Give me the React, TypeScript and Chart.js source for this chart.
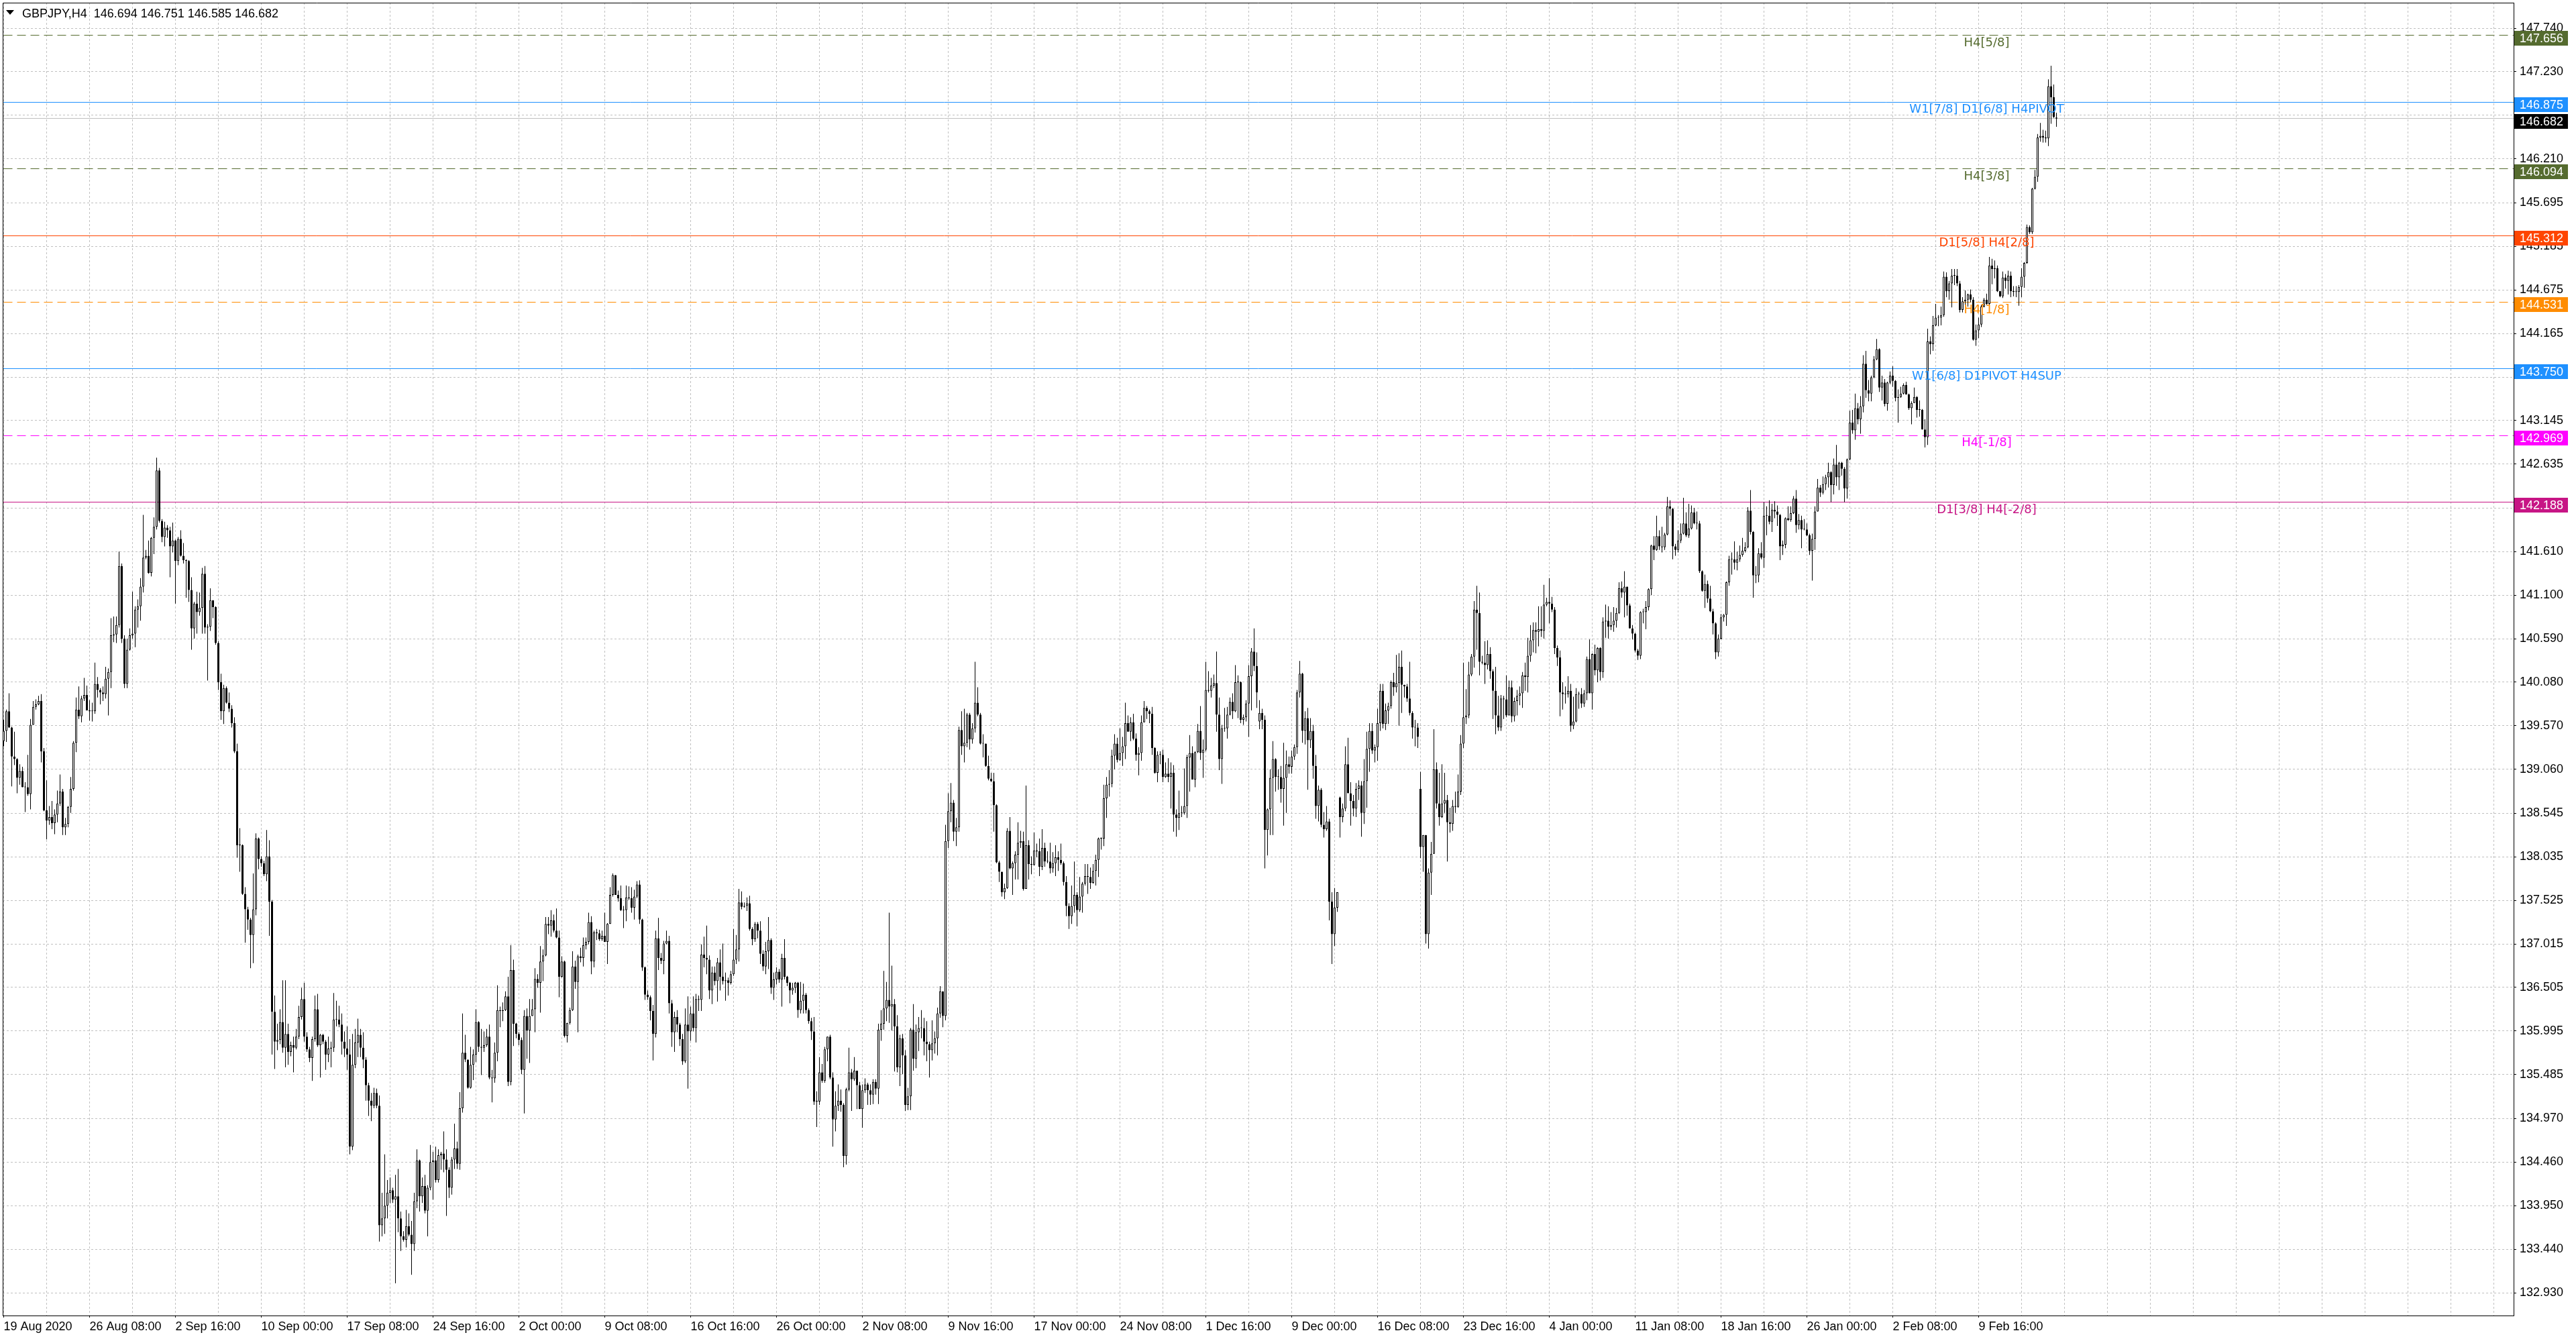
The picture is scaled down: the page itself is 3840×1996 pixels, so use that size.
// @ts-nocheck
import { useEffect, useRef } from "react";
import { Chart, registerables } from "chart.js";

Chart.register(...registerables);

const FONT = "'Liberation Sans', Arial, sans-serif";
const LABEL_FONT = "'DejaVu Sans', Verdana, sans-serif";

const symbolTitle = "GBPJPY,H4  146.694 146.751 146.585 146.682";

// one label every 32 bars (grid every 16)
const dateLabels = [
    "19 Aug 2020", "26 Aug 08:00", "2 Sep 16:00", "10 Sep 00:00", "17 Sep 08:00", "24 Sep 16:00",
    "2 Oct 00:00", "9 Oct 08:00", "16 Oct 16:00", "26 Oct 00:00", "2 Nov 08:00", "9 Nov 16:00",
    "17 Nov 00:00", "24 Nov 08:00", "1 Dec 16:00", "9 Dec 00:00", "16 Dec 08:00", "23 Dec 16:00",
    "4 Jan 00:00", "11 Jan 08:00", "18 Jan 16:00", "26 Jan 00:00", "2 Feb 08:00", "9 Feb 16:00",
];

const yTickLabels = [
    "147.740", "147.230", "146.720", "146.210", "145.695", "145.185", "144.675", "144.165", "143.650", "143.145",
    "142.635", "142.120", "141.610", "141.100", "140.590", "140.080", "139.570", "139.060", "138.545", "138.035",
    "137.525", "137.015", "136.505", "135.995", "135.485", "134.970", "134.460", "133.950", "133.440", "132.930",
];
const yTickHidden = ["146.720", "143.650", "142.120"];

// H4 candles, open = previous close except where the market gapped
const firstOpen = 139.39;
const gapOpens = { 468: 139.62, 498: 138.73, 528: 138.83, 765: 146.694 };

const closes = [
    139.51, 139.74, 139.55, 139.21, 139.18, 138.96, 139.04, 138.85, 138.85, 138.77,
    139.58, 139.79, 139.82, 139.86, 139.27, 138.58, 138.46, 138.50, 138.43, 138.53,
    138.66, 138.80, 138.38, 138.42, 138.62, 138.83, 139.37, 139.76, 139.68, 139.89,
    139.93, 139.75, 139.74, 139.74, 140.06, 139.99, 139.96, 139.94, 140.12, 140.20,
    140.63, 140.64, 140.75, 141.44, 140.59, 140.06, 140.46, 140.63, 140.65, 140.93,
    140.97, 141.20, 141.54, 141.56, 141.36, 141.77, 141.90, 142.56, 141.97, 141.78,
    141.89, 141.86, 141.67, 141.74, 141.50, 141.76, 141.56, 141.51, 141.50, 141.16,
    140.71, 141.00, 140.90, 140.95, 141.35, 140.72, 140.73, 141.04, 140.96, 140.54,
    140.08, 139.74,
    140.01, 139.84, 139.77, 139.60, 139.27, 138.17, 138.17, 137.60, 137.42, 137.30,
    137.12, 137.42, 138.25, 138.01, 137.96, 137.83, 138.04, 137.51, 136.22, 135.87,
    135.89, 136.10, 135.80, 135.96, 135.75, 135.83, 135.80, 135.93, 136.16, 136.37,
    135.93, 135.78, 135.68, 135.90, 136.25, 135.83, 135.95, 135.87, 135.72, 135.79,
    135.80, 136.13, 136.13, 136.07, 135.87, 135.79, 135.72, 134.64, 135.60, 135.86,
    135.95, 135.80, 135.66, 135.36, 135.18, 135.12, 135.27, 135.12, 133.72, 133.80,
    133.95, 134.10, 134.13, 134.02, 134.06, 133.80, 133.59, 133.55, 133.71, 133.61,
    133.50, 134.00, 134.48, 134.06, 134.18, 133.89, 134.16, 134.46, 134.48, 134.25,
    134.54, 134.56, 134.49, 134.37, 134.16, 134.49, 134.62, 134.44, 135.09, 135.74,
    135.66, 135.33, 135.60, 135.72, 136.10, 135.81, 135.80, 135.83, 135.93,
    135.45, 135.44, 135.74, 136.24, 136.23, 136.24, 136.40, 135.40, 136.71, 136.08,
    135.96, 135.89, 135.54, 136.17, 136.00, 136.17, 136.25, 136.605, 136.56, 136.81,
    136.88, 137.25, 137.23, 137.29, 137.17, 137.09, 136.63, 136.81, 135.94, 136.09,
    136.24, 136.75, 136.57, 136.87, 136.85, 137.00, 137.04, 137.27, 136.81, 137.15,
    137.14, 137.07, 137.11, 137.04, 137.25, 137.59, 137.82, 137.59, 137.55, 137.41,
    137.41, 137.56, 137.55, 137.44, 137.57, 137.71, 137.30, 136.74, 136.42, 136.39,
    136.23, 135.96, 137.08, 136.85, 136.82, 137.02, 137.05, 136.32, 135.98, 136.16,
    136.07, 135.90, 135.64, 136.07, 135.99, 136.20, 136.03, 136.37, 136.36, 136.89,
    136.85, 136.83, 136.47, 136.68, 136.58, 136.80, 136.63, 136.58, 136.59, 136.56,
    136.66, 136.83, 136.95, 137.50, 137.45, 137.46, 137.49, 137.19, 137.07, 137.25,
    137.17, 136.90, 136.75, 136.93, 137.06, 136.50, 136.60, 136.69, 136.60, 136.85,
    136.63, 136.56, 136.47, 136.50, 136.56, 136.24, 136.35, 136.42, 136.24, 136.11,
    135.99, 135.17, 135.17, 135.51, 135.41, 135.78, 135.93, 135.45, 134.96, 135.12,
    135.18, 135.13, 134.53, 135.31, 135.51, 135.43, 135.53, 135.36, 135.08, 135.30,
    135.37, 135.30, 135.25, 135.40, 135.32, 136.01, 136.08, 136.26, 136.36, 136.28,
    136.31, 136.05, 135.57, 135.91, 135.71, 135.13, 135.23, 136.01, 135.67, 135.98,
    136.03, 136.03, 135.87, 135.84, 135.77, 135.85, 135.91, 136.20, 136.46, 136.17,
    138.22, 138.57, 138.67, 138.33, 138.38, 139.52, 139.33, 139.37, 139.70, 139.41,
    139.54, 139.84, 139.70, 139.36, 139.36, 139.10, 138.95, 138.92, 138.64, 137.97,
    137.86, 137.62, 137.67, 138.34, 137.90, 137.96, 138.06, 138.20, 138.22, 137.66,
    138.17, 137.95, 137.94, 138.11, 138.10, 137.92, 138.14, 137.98, 137.98, 137.90,
    137.96, 138.03, 138.00, 137.96, 137.74, 137.46, 137.34, 137.46, 137.59, 137.41,
    137.57, 137.72, 137.81, 137.80, 137.73, 137.87, 138.00, 138.25, 138.25, 138.72,
    138.88, 138.89, 139.22, 139.36, 139.17, 139.25, 139.33, 139.60, 139.50, 139.61,
    139.42, 139.23, 139.25, 139.61, 139.78, 139.74, 139.71, 139.31, 139.02, 139.23,
    139.23, 138.97, 139.01, 138.97, 139.02, 138.53, 138.49, 138.55, 138.55, 138.63,
    139.20, 139.25, 138.94, 139.26, 139.51, 139.25, 139.29, 139.99, 139.98, 140.04,
    140.07, 139.70, 139.18, 139.54, 139.54, 139.70, 139.85, 139.74, 140.08, 140.08,
    139.64, 139.67, 139.83, 140.15, 140.44, 140.27, 139.96, 139.72, 139.64, 138.35,
    138.59, 138.96, 139.18, 138.97, 138.97, 138.83, 138.96, 139.12, 139.09, 139.21,
    139.32, 139.96, 140.18, 139.51, 139.66, 139.40, 139.51, 139.10, 138.63, 138.82,
    138.41, 138.36, 138.45, 137.51, 137.13, 137.44, 137.62, 138.50, 138.60, 139.12,
    138.78, 138.69, 138.60, 138.83, 138.87, 138.55, 138.92, 139.30, 139.51, 139.28,
    139.32, 139.60, 139.98, 139.59, 139.75, 139.80, 140.08, 140.02, 140.07, 140.26,
    140.05, 140.03, 139.89, 139.72, 139.55, 139.55, 139.44, 138.15, 138.29, 137.13,
    137.85, 138.07, 139.06, 138.66, 138.50, 138.66, 138.70, 138.44, 138.42, 138.63,
    138.62, 138.80, 139.36, 139.67, 139.69, 140.17, 140.38, 140.93, 140.89, 140.32,
    140.31, 140.28, 140.41, 140.21, 139.98, 139.69, 139.55, 139.89, 139.88, 139.69,
    140.02, 139.68, 139.86, 139.92, 139.95, 140.16, 140.14, 140.39, 140.57, 140.69,
    140.67, 140.70, 140.68, 140.99, 141.02, 141.00, 140.93, 140.48, 140.37, 139.96,
    139.94, 139.94, 139.98, 139.57, 139.62, 139.94, 139.94, 139.83, 139.95, 140.35,
    139.95, 140.41, 140.22, 140.48, 140.20, 140.79, 140.80, 140.73, 140.75, 140.80,
    140.89, 141.18, 141.13, 141.20, 140.98, 140.71, 140.65, 140.45, 140.39, 140.90,
    140.90, 140.96, 141.17, 141.68, 141.63, 141.79, 141.67, 141.66, 141.81, 142.14,
    142.11, 141.67, 141.63, 141.74, 141.82, 141.94, 141.80, 141.88, 142.07, 141.94,
    141.94, 141.38, 141.15, 141.23, 141.06, 140.91, 140.77, 140.43, 140.59, 140.84,
    140.87, 141.25, 141.52, 141.52, 141.48, 141.52, 141.57, 141.62, 141.66, 142.09,
    141.84, 141.33, 141.33, 141.59, 141.54, 142.03, 142.03, 141.96, 142.10, 142.08,
    142.04, 141.67, 141.69, 142.00, 141.98, 142.06, 142.23, 141.92, 141.98, 141.87,
    141.87, 141.80, 141.62, 141.76, 142.08, 142.36, 142.30, 142.40, 142.48, 142.54,
    142.39, 142.63, 142.48, 142.65, 142.58, 142.35, 142.69, 143.12, 143.03, 143.29,
    143.16, 143.31, 143.81, 143.50, 143.46, 143.65, 143.86, 143.98, 143.53, 143.59,
    143.34, 143.59, 143.67, 143.61, 143.41, 143.42, 143.46, 143.56, 143.45, 143.29,
    143.35, 143.42, 143.27, 143.27, 143.04, 142.95, 144.07, 144.04, 144.26, 144.35,
    144.35, 144.38, 144.83, 144.66, 144.75, 144.84, 144.84, 144.75, 144.44, 144.54,
    144.56, 144.62, 144.56, 144.09, 144.20, 144.27, 144.48, 144.56, 144.51, 144.96,
    144.92, 144.93, 144.66, 144.60, 144.82, 144.78, 144.84, 144.66, 144.65, 144.65,
    144.71, 144.83, 144.99, 145.41, 145.35, 145.86, 146.00, 146.46, 146.48, 146.46,
    146.45, 147.06, 146.93, 146.70, 146.682,
];

const highs = [
    139.64, 139.76, 139.95, 139.56, 139.50, 139.19, 139.12, 139.09, 138.91, 139.23,
    139.65, 139.86, 139.88, 139.92, 139.94, 139.31, 138.93, 138.63, 138.69, 138.59,
    138.81, 139.00, 138.83, 138.49, 138.63, 138.97, 139.39, 139.90, 140.03, 139.92,
    140.13, 140.04, 139.87, 139.84, 140.31, 140.14, 140.01, 140.03, 140.26, 140.24,
    140.83, 140.85, 140.85, 141.61, 141.47, 140.63, 140.59, 140.71, 141.14, 140.97,
    141.05, 141.30, 142.04, 141.63, 141.74, 141.78, 142.01, 142.71, 142.59, 141.99,
    141.96, 141.92, 141.90, 141.95, 141.75, 141.78, 141.86, 141.71, 141.52, 141.51,
    141.31, 141.02, 141.14, 141.13, 141.42, 141.44, 140.76, 141.18, 140.99, 140.97,
    140.56, 140.18,
    140.05, 140.03, 139.96, 139.81, 139.67, 139.36, 138.37, 138.18, 137.68, 137.45,
    137.32, 137.84, 138.31, 138.26, 138.04, 137.99, 138.35, 138.23, 137.53, 136.41,
    136.08, 136.25, 136.59, 136.59, 136.08, 135.87, 135.93, 136.02, 136.29, 136.50,
    136.56, 135.98, 135.81, 135.93, 136.41, 136.43, 135.96, 135.96, 135.89, 135.93,
    135.87, 136.44, 136.35, 136.29, 136.20, 135.99, 136.05, 135.90, 135.96, 136.02,
    136.14, 136.02, 135.98, 135.69, 135.39, 135.27, 135.33, 135.32, 135.24, 134.10,
    134.55, 134.25, 134.28, 134.16, 134.31, 134.38, 133.88, 133.65, 133.90, 133.86,
    133.77, 134.10, 134.61, 134.49, 134.28, 134.31, 134.19, 134.66, 134.58, 134.64,
    134.61, 134.58, 134.82, 134.61, 134.40, 134.52, 134.91, 134.70, 135.28, 136.20,
    135.95, 135.66, 135.81, 135.78, 136.25, 136.11, 136.02, 135.99, 136.02,
    136.07, 135.54, 135.86, 136.53, 136.28, 136.33, 136.46, 136.63, 137.00, 136.83,
    136.09, 135.98, 135.92, 136.24, 136.26, 136.37, 136.37, 136.73, 136.66, 136.99,
    136.95, 137.33, 137.33, 137.41, 137.36, 137.43, 137.17, 136.87, 136.82, 136.09,
    136.27, 136.93, 136.82, 136.89, 136.97, 137.09, 137.09, 137.38, 137.34, 137.17,
    137.19, 137.18, 137.17, 137.38, 137.26, 137.68, 137.84, 137.81, 137.64, 137.70,
    137.46, 137.70, 137.69, 137.68, 137.65, 137.75, 137.76, 137.31, 136.75, 136.47,
    136.41, 136.30, 137.17, 137.32, 136.91, 137.05, 137.17, 137.11, 136.36, 136.22,
    136.24, 136.09, 135.96, 136.26, 136.40, 136.28, 136.40, 136.43, 136.41, 137.01,
    137.10, 137.23, 136.88, 136.75, 136.75, 136.85, 136.95, 137.02, 136.68, 136.62,
    136.70, 137.19, 137.12, 137.66, 137.63, 137.50, 137.56, 137.58, 137.21, 137.27,
    137.27, 137.28, 136.94, 137.04, 137.33, 137.08, 136.68, 136.74, 136.72, 136.90,
    137.07, 136.64, 136.57, 136.56, 136.57, 136.57, 136.57, 136.55, 136.44, 136.26,
    136.15, 136.16, 135.29, 135.69, 135.61, 135.81, 135.93, 135.95, 135.51, 135.29,
    135.37, 135.31, 135.15, 135.33, 135.80, 135.55, 135.69, 135.43, 135.40, 135.37,
    135.44, 135.39, 135.37, 135.43, 135.43, 136.08, 136.24, 136.70, 136.57, 137.38,
    136.76, 136.37, 136.18, 135.95, 135.96, 135.77, 135.33, 136.03, 136.31, 136.07,
    136.16, 136.24, 136.15, 136.11, 135.87, 136.12, 135.99, 136.27, 136.52, 136.46,
    138.41, 138.78, 138.90, 138.70, 138.49, 139.56, 139.74, 139.77, 139.72, 139.72,
    139.60, 140.32, 140.02, 139.72, 139.47, 139.36, 139.22, 139.02, 139.02, 138.65,
    137.99, 137.86, 137.72, 138.37, 138.50, 137.98, 138.10, 138.44, 138.34, 138.33,
    138.87, 138.23, 138.04, 138.32, 138.19, 138.25, 138.36, 138.20, 138.10, 138.20,
    138.09, 138.17, 138.10, 138.19, 137.98, 137.81, 137.49, 137.70, 137.98, 137.62,
    137.80, 137.74, 137.95, 137.95, 137.91, 137.95, 138.06, 138.26, 138.26, 138.88,
    138.97, 139.05, 139.29, 139.47, 139.43, 139.54, 139.44, 139.84, 139.69, 139.67,
    139.71, 139.48, 139.32, 139.69, 139.86, 139.80, 139.76, 139.79, 139.32, 139.27,
    139.27, 139.29, 139.14, 139.19, 139.14, 139.11, 138.59, 138.81, 138.63, 139.07,
    139.23, 139.46, 139.33, 139.27, 139.59, 139.80, 139.41, 140.32, 140.21, 140.13,
    140.17, 140.44, 139.90, 139.58, 139.78, 139.79, 139.90, 139.95, 140.28, 140.16,
    140.09, 139.70, 139.87, 140.28, 140.48, 140.71, 140.43, 139.87, 139.77, 139.69,
    138.60, 139.06, 139.39, 139.19, 139.06, 139.10, 139.37, 139.28, 139.21, 139.28,
    139.35, 139.99, 140.33, 140.19, 139.74, 139.78, 139.66, 139.58, 139.23, 138.87,
    138.84, 138.56, 138.63, 138.48, 137.62, 137.67, 137.62, 138.74, 138.66, 139.33,
    139.43, 138.91, 138.76, 138.90, 138.93, 138.92, 139.18, 139.50, 139.60, 139.60,
    139.35, 139.77, 140.06, 140.06, 139.83, 139.84, 140.10, 140.19, 140.40, 140.42,
    140.45, 140.05, 140.06, 140.32, 139.74, 139.64, 139.60, 139.03, 138.29, 138.29,
    137.90, 138.21, 139.53, 139.14, 139.02, 139.12, 139.02, 138.76, 138.61, 138.70,
    138.80, 139.00, 139.46, 140.31, 140.00, 140.32, 140.41, 141.03, 141.21, 141.13,
    140.39, 140.56, 140.57, 140.49, 140.23, 140.26, 139.92, 139.93, 139.92, 140.16,
    140.10, 140.10, 139.90, 139.99, 140.03, 140.20, 140.31, 140.60, 140.75, 140.78,
    140.78, 140.97, 140.97, 141.22, 141.07, 141.30, 141.08, 140.96, 140.51, 140.45,
    140.08, 140.03, 140.15, 140.06, 139.91, 140.01, 139.97, 140.01, 139.99, 140.38,
    140.58, 140.42, 140.52, 140.49, 140.49, 140.84, 140.99, 140.97, 140.90, 140.96,
    140.95, 141.25, 141.26, 141.38, 141.13, 141.00, 140.75, 140.66, 140.47, 140.91,
    140.94, 141.03, 141.18, 141.69, 141.79, 142.03, 141.86, 141.90, 141.83, 142.25,
    142.21, 142.12, 141.70, 141.86, 141.94, 142.24, 142.07, 142.17, 142.15, 142.12,
    142.08, 141.97, 141.39, 141.34, 141.27, 141.21, 140.94, 140.78, 140.64, 140.88,
    140.88, 141.26, 141.56, 141.60, 141.73, 141.61, 141.68, 141.77, 141.72, 142.13,
    142.33, 141.85, 141.44, 141.65, 141.72, 142.19, 142.14, 142.21, 142.17, 142.20,
    142.15, 142.05, 141.74, 142.01, 142.14, 142.14, 142.26, 142.33, 142.05, 142.03,
    141.99, 141.94, 141.82, 141.82, 142.14, 142.46, 142.39, 142.49, 142.51, 142.65,
    142.55, 142.70, 142.86, 142.66, 142.66, 142.60, 142.70, 143.26, 143.27, 143.46,
    143.35, 143.43, 143.91, 143.96, 143.62, 143.67, 143.90, 144.10, 143.99, 143.67,
    143.63, 143.60, 143.72, 143.78, 143.62, 143.51, 143.54, 143.58, 143.60, 143.46,
    143.37, 143.53, 143.43, 143.38, 143.28, 143.16, 144.22, 144.13, 144.37, 144.51,
    144.38, 144.48, 144.89, 144.88, 144.78, 144.92, 144.92, 144.92, 144.78, 144.59,
    144.67, 144.63, 144.68, 144.59, 144.27, 144.35, 144.50, 144.58, 144.63, 145.06,
    145.04, 145.02, 144.96, 144.65, 144.89, 144.86, 144.90, 144.89, 144.72, 144.72,
    144.73, 144.93, 145.00, 145.44, 145.43, 145.87, 146.08, 146.50, 146.63, 146.55,
    146.54, 147.14, 147.30, 147.08, 146.751,
];

const lows = [
    139.33, 139.38, 139.545, 138.86, 139.11, 138.78, 138.88, 138.85, 138.56, 138.75,
    138.59, 139.58, 139.76, 139.81, 139.14, 138.57, 138.24, 138.41, 138.36, 138.30,
    138.44, 138.63, 138.29, 138.29, 138.38, 138.55, 138.81, 139.26, 139.65, 139.61,
    139.86, 139.75, 139.63, 139.62, 139.71, 139.90, 139.82, 139.86, 139.89, 139.69,
    140.01, 140.55, 140.54, 140.72, 140.54, 140.01, 140.01, 140.45, 140.59, 140.49,
    140.72, 140.80, 141.13, 141.52, 141.35, 141.32, 141.58, 141.87, 141.95, 141.72,
    141.67, 141.77, 141.31, 141.60, 141.00, 141.45, 141.55, 141.47, 141.07, 141.02,
    140.46, 140.59, 140.65, 140.86, 140.65, 140.65, 140.10, 140.68, 140.83, 140.52,
    139.99, 139.64,
    139.59, 139.83, 139.73, 139.55, 139.25, 138.025, 137.86, 137.59, 137.03, 137.18,
    136.73, 136.79, 137.35, 137.89, 137.92, 137.81, 137.75, 137.11, 135.72, 135.55,
    135.77, 135.84, 135.74, 135.57, 135.60, 135.70, 135.51, 135.78, 135.90, 136.13,
    135.87, 135.75, 135.63, 135.41, 135.87, 135.81, 135.45, 135.84, 135.54, 135.63,
    135.57, 135.75, 136.05, 136.04, 135.72, 135.69, 135.54, 134.55, 134.60, 135.56,
    135.69, 135.69, 135.56, 135.18, 135.00, 134.94, 135.09, 135.09, 133.53, 133.59,
    133.62, 133.80, 133.98, 133.98, 133.04, 133.64, 133.42, 133.53, 133.46, 133.59,
    133.14, 133.42, 133.92, 133.88, 133.98, 133.86, 133.59, 134.13, 134.02, 134.22,
    134.22, 134.37, 134.34, 133.83, 134.04, 134.08, 134.38, 134.38, 134.37, 135.04,
    135.63, 135.32, 135.32, 135.42, 135.63, 135.75, 135.48, 135.75, 135.81,
    135.43, 135.16, 135.39, 135.64, 136.04, 136.11, 136.23, 135.35, 135.36, 135.82,
    135.91, 135.83, 135.49, 135.03, 135.67, 135.62, 136.17, 135.98, 136.50, 136.21,
    136.58, 136.87, 137.13, 137.10, 137.15, 137.08, 136.39, 136.62, 135.92, 135.86,
    136.07, 136.23, 136.49, 135.98, 136.80, 136.75, 136.95, 137.01, 136.66, 136.74,
    137.06, 137.05, 137.05, 137.04, 136.78, 137.25, 137.57, 137.59, 137.51, 137.40,
    137.20, 137.28, 137.53, 137.38, 137.30, 137.55, 137.25, 136.70, 136.36, 136.36,
    136.12, 135.65, 135.92, 136.71, 136.78, 136.66, 137.01, 136.20, 135.81, 135.75,
    135.98, 135.82, 135.60, 135.62, 135.32, 135.88, 135.99, 135.86, 136.23, 136.23,
    136.74, 136.66, 136.37, 136.31, 136.53, 136.34, 136.47, 136.54, 136.35, 136.41,
    136.54, 136.64, 136.78, 136.81, 137.42, 137.44, 137.40, 137.17, 137.00, 137.04,
    137.08, 136.78, 136.70, 136.66, 136.72, 136.43, 136.36, 136.54, 136.56, 136.28,
    136.60, 136.52, 136.32, 136.42, 136.44, 136.15, 136.20, 136.20, 136.20, 136.08,
    135.89, 135.13, 134.87, 135.13, 135.39, 135.39, 135.64, 135.43, 134.64, 134.82,
    135.06, 135.05, 134.40, 134.43, 135.29, 135.06, 135.41, 135.08, 135.08, 134.86,
    135.27, 135.13, 135.13, 135.14, 135.25, 135.14, 135.88, 136.01, 136.11, 136.09,
    136.00, 135.52, 135.51, 135.35, 135.49, 135.06, 135.07, 135.07, 135.53, 135.56,
    135.76, 135.91, 135.71, 135.64, 135.45, 135.65, 135.73, 135.71, 136.15, 136.04,
    136.12, 138.14, 138.44, 138.22, 138.16, 138.33, 139.23, 139.14, 139.32, 139.29,
    139.36, 139.49, 139.68, 139.35, 139.20, 139.09, 138.93, 138.91, 138.33, 137.96,
    137.74, 137.57, 137.54, 137.66, 137.89, 137.59, 137.77, 137.77, 138.14, 137.64,
    137.67, 137.77, 137.83, 137.93, 138.03, 137.81, 137.88, 137.92, 137.96, 137.84,
    137.85, 137.81, 137.87, 137.94, 137.70, 137.34, 137.19, 137.25, 137.38, 137.22,
    137.39, 137.38, 137.70, 137.60, 137.66, 137.72, 137.70, 137.80, 138.12, 138.16,
    138.49, 138.74, 138.85, 139.06, 139.14, 139.16, 139.10, 139.18, 139.50, 139.39,
    139.40, 139.16, 138.99, 139.16, 139.61, 139.65, 139.60, 139.23, 139.01, 138.91,
    139.12, 138.91, 138.96, 138.91, 138.60, 138.33, 138.27, 138.35, 138.50, 138.53,
    138.49, 138.80, 138.94, 138.85, 139.25, 139.17, 138.96, 139.27, 139.96, 139.90,
    140.01, 139.50, 139.05, 138.89, 139.50, 139.42, 139.69, 139.65, 139.73, 139.66,
    139.60, 139.58, 139.62, 139.44, 139.75, 140.21, 139.78, 139.53, 139.53, 137.90,
    138.05, 138.29, 138.29, 138.80, 138.82, 138.67, 138.40, 138.55, 139.01, 139.01,
    139.17, 139.24, 139.90, 139.37, 139.35, 138.82, 139.31, 138.95, 138.48, 138.45,
    138.38, 138.26, 138.34, 137.29, 136.78, 136.99, 137.39, 138.26, 138.44, 138.57,
    138.78, 138.40, 138.51, 138.50, 138.70, 138.27, 138.42, 138.61, 139.03, 139.24,
    139.14, 139.16, 139.51, 139.54, 139.52, 139.59, 139.77, 139.92, 139.96, 139.57,
    139.72, 139.90, 139.85, 139.69, 139.42, 139.33, 139.31, 138.02, 137.86, 137.02,
    136.96, 137.59, 138.07, 138.60, 138.40, 138.49, 138.55, 137.98, 138.32, 138.34,
    138.55, 138.61, 138.76, 139.31, 139.59, 139.66, 140.15, 140.25, 140.46, 140.16,
    140.29, 140.06, 140.23, 140.12, 139.65, 139.47, 139.51, 139.51, 139.65, 139.67,
    139.69, 139.61, 139.62, 139.69, 139.81, 139.78, 139.98, 139.96, 140.32, 140.43,
    140.42, 140.50, 140.61, 140.59, 140.97, 140.77, 140.90, 140.41, 140.27, 139.68,
    139.76, 139.83, 139.90, 139.50, 139.53, 139.61, 139.77, 139.78, 139.79, 139.87,
    139.95, 139.76, 140.16, 140.08, 140.10, 140.13, 140.60, 140.59, 140.69, 140.67,
    140.72, 140.88, 141.07, 140.84, 140.86, 140.71, 140.58, 140.43, 140.34, 140.35,
    140.77, 140.70, 140.92, 141.10, 141.51, 141.62, 141.63, 141.60, 141.63, 141.80,
    142.03, 141.52, 141.56, 141.60, 141.71, 141.81, 141.78, 141.77, 141.87, 141.93,
    141.87, 141.36, 141.14, 140.95, 141.01, 140.90, 140.64, 140.35, 140.38, 140.58,
    140.79, 140.74, 141.21, 141.34, 141.40, 141.39, 141.49, 141.55, 141.60, 141.65,
    141.81, 141.07, 141.24, 141.25, 141.52, 141.42, 141.80, 141.93, 141.84, 142.00,
    141.91, 141.51, 141.57, 141.65, 141.97, 141.96, 142.05, 141.83, 141.87, 141.65,
    141.86, 141.79, 141.57, 141.27, 141.63, 142.08, 142.25, 142.28, 142.33, 142.36,
    142.19, 142.28, 142.38, 142.33, 142.50, 142.19, 142.23, 142.68, 142.99, 142.92,
    143.10, 142.99, 143.24, 143.41, 143.37, 143.37, 143.64, 143.85, 143.48, 143.38,
    143.31, 143.26, 143.57, 143.54, 143.37, 143.12, 143.41, 143.45, 143.45, 143.27,
    143.10, 143.35, 143.18, 143.19, 143.04, 142.83, 142.86, 143.92, 143.96, 144.25,
    144.25, 144.26, 144.36, 144.59, 144.56, 144.47, 144.73, 144.72, 144.41, 144.41,
    144.50, 144.48, 144.53, 144.08, 144.02, 144.11, 144.24, 144.47, 144.50, 144.50,
    144.74, 144.81, 144.65, 144.59, 144.58, 144.69, 144.62, 144.59, 144.60, 144.59,
    144.49, 144.59, 144.70, 144.98, 145.33, 145.33, 145.85, 145.94, 146.41, 146.40,
    146.40, 146.36, 146.62, 146.69, 146.585,
];

// Murrey / pivot levels drawn by the indicator
const levelPrices = [147.656, 146.875, 146.094, 145.312, 144.531, 143.75, 142.969, 142.188];
const levelNames = [
    "H4[5/8]", "W1[7/8] D1[6/8] H4PIVOT", "H4[3/8]", "D1[5/8] H4[2/8]",
    "H4[1/8]", "W1[6/8] D1PIVOT H4SUP", "H4[-1/8]", "D1[3/8] H4[-2/8]",
];
const levelColors = ["#556b2f", "#1e90ff", "#556b2f", "#ff4500", "#ff8c00", "#1e90ff", "#ff00ff", "#c71585"];
const levelDashed = [true, false, true, false, true, false, true, false];
const lastPrice = 146.682;

const LABEL_BAR = 739; // where the level names sit
const BARS_SHOWN = [-0.375, 935.375];

const overlay = {
    id: "mt4Overlay",
    // keep the horizontal level lines on whole pixels
    beforeDatasetDraw(chart, args) {
        const ds = chart.data.datasets[args.index];
        if (ds.type !== "line") return;
        const py = chart.scales.y.getPixelForValue(ds.data[0].y);
        chart.ctx.save();
        chart.ctx.translate(0, Math.round(py - 0.5) + 0.5 - py);
    },
    afterDatasetDraw(chart, args) {
        if (chart.data.datasets[args.index].type !== "line") return;
        chart.ctx.restore();
    },
    afterDatasetsDraw(chart) {
        const {ctx, scales: {x, y}} = chart;
        ctx.save();
        ctx.font = `18px ${LABEL_FONT}`;
        ctx.textAlign = "center";
        ctx.textBaseline = "middle";
        const cx = x.getPixelForValue(LABEL_BAR);
        levelPrices.forEach((p, i) => {
            ctx.fillStyle = levelColors[i];
            ctx.fillText(levelNames[i], cx, y.getPixelForValue(p) + 11.5);
        });
        ctx.restore();
    },
    afterDraw(chart) {
        const {ctx, chartArea, scales: {y}} = chart;
        ctx.save();
        // frame
        ctx.strokeStyle = "#000";
        ctx.lineWidth = 1;
        ctx.beginPath();
        ctx.moveTo(chartArea.left + 0.5, chartArea.bottom);
        ctx.lineTo(chartArea.left + 0.5, chartArea.top + 0.5);
        ctx.lineTo(chartArea.right, chartArea.top + 0.5);
        ctx.stroke();

        // price tags on the axis
        ctx.font = `18px ${FONT}`;
        ctx.textAlign = "left";
        ctx.textBaseline = "middle";
        const tag = (p, color) => {
            const top = Math.round(y.getPixelForValue(p)) - 7;
            ctx.fillStyle = color;
            ctx.fillRect(y.left + 1, top, 80, 22);
            ctx.fillStyle = "#ffffff";
            ctx.fillText(p.toFixed(3), y.left + 9, top + 12);
        };
        levelPrices.forEach((p, i) => tag(p, levelColors[i]));
        tag(lastPrice, "#000000");

        // title
        ctx.fillStyle = "#000";
        ctx.beginPath();
        ctx.moveTo(9, 15);
        ctx.lineTo(21, 15);
        ctx.lineTo(15, 22);
        ctx.closePath();
        ctx.fill();
        ctx.textBaseline = "alphabetic";
        ctx.fillText(symbolTitle, 33, 26);
        ctx.restore();
    },
};

export default function App() {
    const chartRef = useRef(null);
    const chartInstance = useRef(null);

    useEffect(() => {
        document.body.style.margin = "0";
        const opens = closes.map((c, i) => gapOpens[i] ?? (i === 0 ? firstOpen : closes[i - 1]));
        const wicks = closes.map((c, i) => ({
            x: i,
            y: [Math.min(lows[i], opens[i], c), Math.max(highs[i], opens[i], c)],
        }));
        const bodies = closes.map((c, i) => ({x: i, y: [opens[i], c]}));
        const bodyFill = closes.map((c, i) => (c >= opens[i] ? "#ffffff" : "#000000"));

        const levelSets = levelPrices.map((p, i) => ({
            type: "line",
            data: [{x: -5, y: p}, {x: 1000, y: p}],
            borderColor: levelColors[i],
            borderWidth: 1,
            borderDash: levelDashed[i] ? [13, 7] : [],
            pointRadius: 0,
            order: 3,
        }));

        const ctx = chartRef.current.getContext("2d");
        chartInstance.current = new Chart(ctx, {
            type: "bar",
            data: {
                datasets: [
                    {
                        type: "bar",
                        data: bodies,
                        backgroundColor: bodyFill,
                        borderColor: "#000000",
                        borderWidth: 1,
                        borderSkipped: false,
                        barThickness: 3,
                        minBarLength: 1,
                        inflateAmount: 0,
                        grouped: false,
                        order: 0,
                    },
                    {
                        type: "bar",
                        data: wicks,
                        backgroundColor: "#000000",
                        borderWidth: 0,
                        barThickness: 1,
                        minBarLength: 1,
                        inflateAmount: 0,
                        grouped: false,
                        order: 1,
                    },
                    {
                        type: "line",
                        data: [{x: -5, y: lastPrice}, {x: 1000, y: lastPrice}],
                        borderColor: "#c0c0c0",
                        borderWidth: 1,
                        pointRadius: 0,
                        order: 2,
                    },
                    ...levelSets,
                ],
            },
            options: {
                animation: false,
                responsive: false,
                devicePixelRatio: 1,
                events: [],
                layout: {padding: {left: 4, top: 4, right: 0, bottom: 0}},
                plugins: {legend: {display: false}, tooltip: {enabled: false}},
                scales: {
                    x: {
                        type: "linear",
                        min: BARS_SHOWN[0],
                        max: BARS_SHOWN[1],
                        offset: false,
                        afterBuildTicks: (s) => {
                            const t = [];
                            for (let v = 0; v <= BARS_SHOWN[1]; v += 16) t.push({value: v});
                            s.ticks = t;
                        },
                        afterFit: (s) => {
                            s.height = 35;
                            s.paddingLeft = 0;
                            s.paddingRight = 0;
                        },
                        grid: {
                            color: "#c0c0c0",
                            offset: false,
                            tickLength: 3,
                            tickColor: (c) => (c.tick && c.tick.value % 32 === 0 && c.tick.value <= 736 ? "#000" : "rgba(0,0,0,0)"),
                        },
                        border: {display: true, color: "#000", width: 1, dash: [3, 3]},
                        ticks: {
                            autoSkip: false,
                            maxRotation: 0,
                            minRotation: 0,
                            align: "start",
                            padding: 3,
                            color: "#000",
                            font: {family: FONT, size: 18},
                            callback: (v) => (v % 32 === 0 ? dateLabels[v / 32] ?? "" : ""),
                        },
                    },
                    y: {
                        type: "linear",
                        position: "right",
                        min: 132.6629,
                        max: 148.0386,
                        afterBuildTicks: (s) => {
                            s.ticks = yTickLabels.map((l) => ({value: parseFloat(l)})).reverse();
                        },
                        afterFit: (s) => {
                            s.width = 93;
                            s.paddingTop = 0;
                            s.paddingBottom = 0;
                        },
                        grid: {color: "#c0c0c0", tickLength: 4, tickColor: "#000"},
                        border: {display: true, color: "#000", width: 1, dash: [3, 3]},
                        ticks: {
                            padding: 5,
                            color: "#000",
                            font: {family: FONT, size: 18},
                            callback: (v) => {
                                const l = Number(v).toFixed(3);
                                return yTickHidden.includes(l) ? "" : l;
                            },
                        },
                    },
                },
            },
            plugins: [overlay],
        });

        return () => {
            chartInstance.current.destroy();
        };
    }, []);

    return (
        <div style={{width: 3840, height: 1996, background: "#ffffff"}}>
            <canvas ref={chartRef} width={3840} height={1996}/>
        </div>
    );
}
